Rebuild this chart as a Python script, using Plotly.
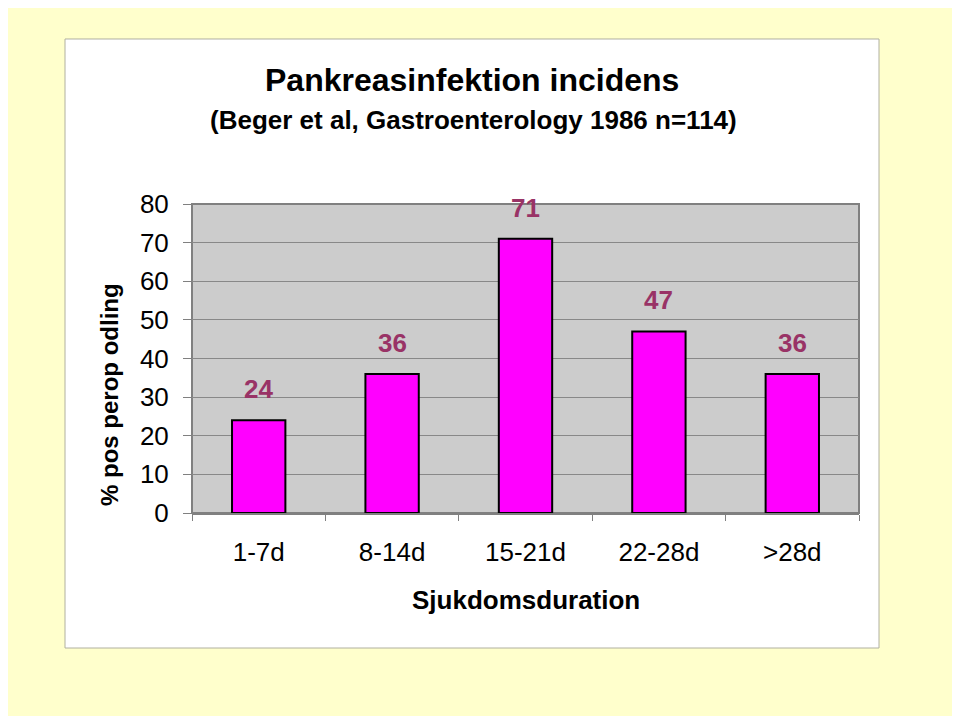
import plotly.graph_objects as go

categories = ["1-7d", "8-14d", "15-21d", "22-28d", ">28d"]
values = [24, 36, 71, 47, 36]
y_ticks = [0, 10, 20, 30, 40, 50, 60, 70, 80]

font = "Arial, Liberation Sans, sans-serif"

fig = go.Figure()
fig.add_trace(go.Bar(
    x=categories,
    y=values,
    width=0.4,
    marker=dict(color="#FF00FF", line=dict(color="black", width=2)),
    hoverinfo="x+y",
))

# value labels above the bars
for c, v in zip(categories, values):
    fig.add_annotation(x=c, y=v, text=f"<b>{v}</b>", showarrow=False,
                       xanchor="center", yanchor="middle", yshift=31,
                       font=dict(size=26, color="#993366", family=font))

# white chart frame and grey plot area
fig.add_shape(type="rect", xref="paper", yref="paper", layer="below",
              x0=-0.1904, x1=1.03, y0=-0.4369, y1=1.534,
              fillcolor="white", line=dict(color="#B0B0A0", width=1))
fig.add_shape(type="rect", xref="paper", yref="paper", layer="below",
              x0=0, x1=1, y0=0, y1=1,
              fillcolor="#CCCCCC", line=dict(color="#808080", width=2))

# titles
def label(text, x, y, size, angle=0):
    fig.add_annotation(xref="paper", yref="paper", x=x, y=y, text=text, textangle=angle,
                       xanchor="center", yanchor="middle", showarrow=False,
                       font=dict(size=size, color="black", family=font))

label("<b>Pankreasinfektion incidens</b>", 0.4205, 1.401, 32)
label("<b>(Beger et al, Gastroenterology 1986 n=114)</b>", 0.4215, 1.272, 26)
label("<b>Sjukdomsduration</b>", 0.5, -0.2816, 26)
label("<b>% pos perop odling</b>", -0.1229, 0.382, 24, -90)

fig.update_xaxes(
    showgrid=False, ticks="outside", tickson="boundaries", ticklen=6, tickcolor="#808080",
    showline=True, linecolor="#808080", linewidth=2,
    tickfont=dict(size=26, color="black", family=font), ticklabelstandoff=15,
)
fig.update_yaxes(
    range=[0, 80], tickvals=y_ticks, showgrid=True, gridcolor="#888888", gridwidth=1,
    ticks="outside", ticklen=8, tickcolor="#808080", zeroline=False,
    tickfont=dict(size=26, color="black", family=font), ticklabelstandoff=9,
)
# the page body adds an 8px offset, so the figure is 8px smaller each way
fig.update_layout(
    width=952, height=708,
    margin=dict(l=184, r=101, t=196, b=203),
    paper_bgcolor="#FFFFCC",
    plot_bgcolor="rgba(0,0,0,0)",
    showlegend=False,
    bargap=0.6,
)

fig.write_html("out.html")
